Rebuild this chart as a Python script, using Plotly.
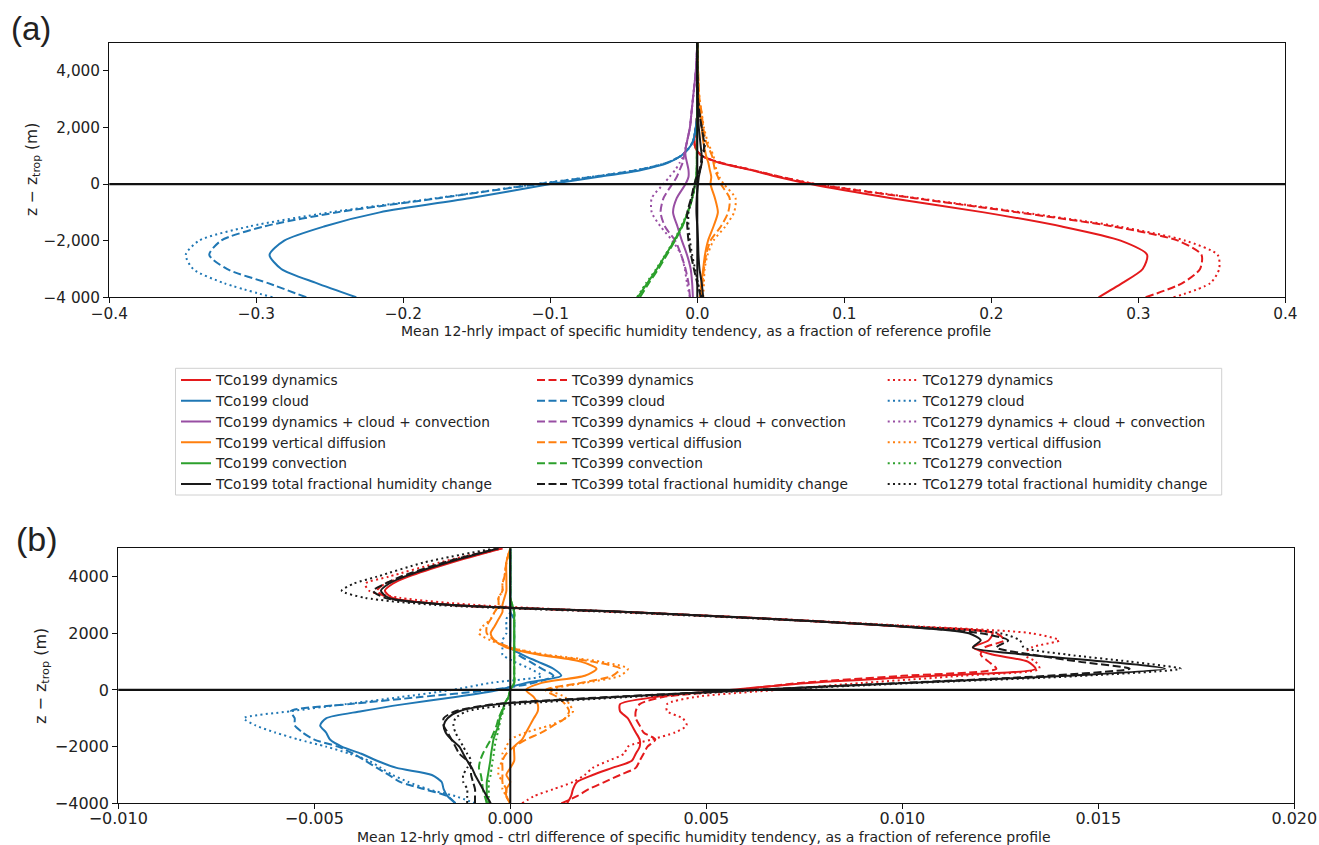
import plotly.graph_objects as go

W, H = 1319, 845

RESOLUTIONS = ["TCo199", "TCo399", "TCo1279"]
COMPONENTS = ["dynamics", "cloud", "dynamics + cloud + convection",
              "vertical diffusion", "convection", "total fractional humidity change"]
COLORS = ["#e41a1c", "#1f77b4", "#984ea3", "#ff7f0e", "#2ca02c", "#1a1a1a"]
DASHES = ["solid", "8px,3.5px", "2px,3.3px"]

# ---------------- panel (a): heights (m) ----------------
ZA = [-4000, -3500, -3000, -2500, -2000, -1500, -1000, -500, 0, 250, 500, 750,
      1000, 1250, 1500, 2000, 2500, 3000, 4000, 5000]

A_DYN_199 = [0.273, 0.289, 0.303, 0.306, 0.288, 0.248, 0.195, 0.132, 0.077, 0.055, 0.036, 0.015, 0.003, -0.001, -0.002, -0.001, 0.0, 0.0, 0.0, 0.0]
A_DYN_399 = [0.305, 0.330, 0.342, 0.343, 0.327, 0.283, 0.218, 0.148, 0.080, 0.057, 0.037, 0.016, 0.003, -0.001, -0.002, -0.001, 0.0, 0.0, 0.0, 0.0]
A_DYN_1279 = [0.324, 0.349, 0.355, 0.354, 0.332, 0.287, 0.221, 0.150, 0.081, 0.057, 0.037, 0.016, 0.003, -0.001, -0.002, -0.001, 0.0, 0.0, 0.0, 0.0]

A_CLD_199 = [-0.232, -0.259, -0.283, -0.291, -0.281, -0.254, -0.216, -0.155, -0.100, -0.068, -0.038, -0.020, -0.011, -0.006, -0.003, -0.001, 0.0, 0.0, 0.0, 0.0]
A_CLD_399 = [-0.266, -0.292, -0.320, -0.332, -0.324, -0.295, -0.245, -0.176, -0.108, -0.072, -0.040, -0.021, -0.011, -0.006, -0.003, -0.001, 0.0, 0.0, 0.0, 0.0]
A_CLD_1279 = [-0.289, -0.322, -0.343, -0.348, -0.339, -0.305, -0.250, -0.178, -0.110, -0.073, -0.041, -0.021, -0.011, -0.006, -0.003, -0.001, 0.0, 0.0, 0.0, 0.0]

A_DCC_199 = [-0.003, -0.0035, -0.0045, -0.007, -0.0105, -0.0135, -0.0165, -0.014, -0.008, -0.006, -0.006, -0.007, -0.008, -0.008, -0.007, -0.005, -0.004, -0.003, -0.001, 0.0]
A_DCC_399 = [-0.005, -0.006, -0.008, -0.011, -0.015, -0.022, -0.025, -0.023, -0.017, -0.014, -0.012, -0.010, -0.009, -0.008, -0.007, -0.005, -0.004, -0.003, -0.001, 0.0]
A_DCC_1279 = [-0.005, -0.007, -0.0085, -0.011, -0.017, -0.025, -0.031, -0.031, -0.023, -0.019, -0.015, -0.012, -0.0095, -0.008, -0.007, -0.005, -0.004, -0.003, -0.001, 0.0]

A_VDF_199 = [0.0017, 0.0028, 0.004, 0.0052, 0.0073, 0.011, 0.014, 0.012, 0.009, 0.0095, 0.0085, 0.0075, 0.006, 0.005, 0.004, 0.003, 0.002, 0.001, 0.0005, 0.0]
A_VDF_399 = [0.003, 0.0035, 0.0045, 0.006, 0.009, 0.016, 0.021, 0.022, 0.016, 0.014, 0.012, 0.011, 0.010, 0.008, 0.006, 0.004, 0.003, 0.0015, 0.0005, 0.0]
A_VDF_1279 = [0.004, 0.0045, 0.005, 0.007, 0.011, 0.019, 0.025, 0.026, 0.018, 0.015, 0.013, 0.012, 0.011, 0.009, 0.007, 0.0045, 0.003, 0.0015, 0.0005, 0.0]

A_CNV_199 = [-0.0405, -0.034, -0.0275, -0.0215, -0.0157, -0.0105, -0.0065, -0.0035, -0.0015, -0.0008, -0.0004, -0.0003, -0.0003, -0.0003, -0.0002, -0.0002, -0.0001, 0.0, 0.0, 0.0]
A_CNV_399 = [-0.039, -0.033, -0.0265, -0.0207, -0.0152, -0.0102, -0.0063, -0.0034, -0.0015, -0.0008, -0.0004, -0.0003, -0.0003, -0.0003, -0.0002, -0.0002, -0.0001, 0.0, 0.0, 0.0]
A_CNV_1279 = [-0.041, -0.0348, -0.028, -0.0218, -0.016, -0.011, -0.0067, -0.0036, -0.0015, -0.0008, -0.0004, -0.0003, -0.0003, -0.0003, -0.0002, -0.0002, -0.0001, 0.0, 0.0, 0.0]

A_TOT_199 = [0.004, 0.003, 0.0015, 0.0008, 0.0005, 0.0, -0.0006, -0.0004, 0.0005, 0.001, 0.002, 0.003, 0.003, 0.0025, 0.002, 0.001, 0.0005, 0.0003, 0.0, 0.0]
A_TOT_399 = [0.0025, 0.0, -0.0023, -0.0043, -0.006, -0.0068, -0.0068, -0.0042, -0.002, -0.0005, 0.0015, 0.0025, 0.003, 0.0045, 0.0045, 0.003, 0.0015, 0.0005, 0.0, 0.0]
A_TOT_1279 = [0.003, 0.0005, -0.0015, -0.0035, -0.005, -0.006, -0.006, -0.0035, -0.0015, 0.0, 0.002, 0.003, 0.004, 0.005, 0.005, 0.003, 0.0015, 0.0005, 0.0, 0.0]

# ---------------- panel (b): heights (m) ----------------
ZB = [-4000, -3750, -3500, -3250, -3000, -2750, -2500, -2250, -2000, -1750, -1500, -1250,
      -1000, -750, -500, -250, 0, 250, 500, 750, 1000, 1250, 1500, 1750, 2000, 2250,
      2500, 2750, 3000, 3250, 3500, 3750, 4000, 4500, 5000]

B_DYN_199 = [0.00145, 0.00155, 0.0016, 0.0017, 0.0021, 0.0026, 0.0031, 0.0032, 0.0033, 0.0033, 0.0032, 0.0031, 0.0030, 0.0028, 0.0028, 0.0037, 0.0056,
             0.0076, 0.0108, 0.0134, 0.0132, 0.0123, 0.0118, 0.0122, 0.0123, 0.0099, 0.0068, 0.0030, -0.0015, -0.0030, -0.0032, -0.0030, -0.0026, -0.0015, -0.0002]
B_DYN_399 = [0.0013, 0.0017, 0.0020, 0.0024, 0.0028, 0.0032, 0.0033, 0.0034, 0.0035, 0.0037, 0.0034, 0.0033, 0.0032, 0.0032, 0.0033, 0.0039, 0.0058,
             0.0074, 0.0100, 0.0124, 0.0122, 0.0120, 0.0121, 0.0126, 0.0124, 0.0099, 0.0068, 0.0030, -0.0015, -0.0031, -0.0034, -0.0032, -0.0027, -0.0016, -0.0002]
B_DYN_1279 = [0.0003, 0.0006, 0.0011, 0.0016, 0.0019, 0.0021, 0.0025, 0.0029, 0.0030, 0.0036, 0.0042, 0.0045, 0.0044, 0.0040, 0.0040, 0.0047, 0.0068,
              0.0090, 0.0115, 0.0135, 0.0134, 0.0131, 0.0133, 0.0140, 0.0133, 0.0103, 0.0069, 0.0029, -0.0009, -0.0028, -0.0036, -0.0037, -0.0031, -0.0018, -0.0003]

B_CLD_199 = [-0.0014, -0.0016, -0.0017, -0.00175, -0.0020, -0.0029, -0.0034, -0.0038, -0.0043, -0.0046, -0.0047, -0.00485, -0.0047, -0.0038, -0.0027, -0.0014, -0.0003,
             0.0004, 0.0013, 0.0011, 0.0007, 0.0003, 0.0, 0.0, 0.0, 0.0, 0.0, 0.0, 0.0, 0.0, 0.0, 0.0, 0.0, 0.0, 0.0]
B_CLD_399 = [-0.0014, -0.0016, -0.0022, -0.0028, -0.0031, -0.0034, -0.0037, -0.0040, -0.0044, -0.0050, -0.0053, -0.0055, -0.0055, -0.0056, -0.0041, -0.0023, -0.0005,
             0.0006, 0.0011, 0.0008, 0.0005, 0.0002, 0.0001, 0.0001, 0.0001, 0.0001, 0.0001, 0.0, 0.0, 0.0, 0.0, 0.0, 0.0, 0.0, 0.0]
B_CLD_1279 = [-0.0009, -0.0014, -0.0021, -0.0026, -0.0030, -0.0033, -0.0036, -0.0041, -0.0047, -0.0054, -0.0060, -0.0065, -0.0068, -0.0056, -0.0042, -0.0028, -0.0015,
              -0.0005, 0.0008, 0.0005, 0.0001, -0.0002, -0.0002, -0.0002, -0.0001, -0.0001, -0.0001, 0.0, 0.0, 0.0, 0.0, 0.0, 0.0, 0.0, 0.0]

B_VDF_199 = [0.0, -0.0001, -0.0001, 0.0, -0.0001, 0.0, 0.0001, 0.0001, 0.0001, 0.0003, 0.0004, 0.0005, 0.0006, 0.0007, 0.0007, 0.0006, 0.0004,
             0.0008, 0.0019, 0.0022, 0.0018, 0.0007, -0.0001, -0.0004, -0.0005, -0.0004, -0.0003, -0.0002, -0.0002, -0.00015, -0.0001, -0.0001, -0.0001, -0.0001, 0.0]
B_VDF_399 = [0.0, -0.0001, -0.0001, -0.0002, -0.0002, -0.0002, -0.0002, -0.0001, 0.0001, 0.0004, 0.0008, 0.0011, 0.0014, 0.0015, 0.0014, 0.0012, 0.0009,
             0.0018, 0.0026, 0.0028, 0.0021, 0.0008, 0.0, -0.0004, -0.0006, -0.0006, -0.0005, -0.0004, -0.0003, -0.0003, -0.0002, -0.0002, -0.00015, -0.0001, 0.0]
B_VDF_1279 = [0.0, -0.0001, -0.0002, -0.0002, -0.0003, -0.0003, -0.0002, -0.0002, -0.0001, 0.0, 0.0004, 0.0010, 0.0014, 0.0016, 0.0015, 0.0014, 0.0010,
              0.0019, 0.0028, 0.0030, 0.0023, 0.0009, 0.0, -0.0005, -0.0008, -0.0007, -0.0005, -0.0004, -0.0003, -0.0003, -0.0002, -0.0002, -0.00015, -0.0001, 0.0]

B_CNV_199 = [-0.0006, -0.0006, -0.0006, -0.0006, -0.00057, -0.00054, -0.00051, -0.00049, -0.00046, -0.00043, -0.00037, -0.0003, -0.00027, -0.0002, -0.00015, -0.00005, 0.0,
             0.0001, 0.0001, 0.0001, 0.0001, 0.0001, 0.0001, 0.0001, 0.0001, 0.0001, 0.0001, 0.0001, 0.00005, 0.0, 0.0, 0.0, 0.0, 0.0, 0.0]
B_CNV_399 = [-0.0006, -0.00065, -0.0007, -0.00072, -0.00075, -0.0008, -0.00077, -0.0007, -0.0006, -0.0005, -0.00042, -0.00035, -0.0003, -0.00022, -0.00015, -0.00005, 0.0,
             0.0001, 0.0001, 0.0001, 0.0001, 0.0001, 0.0001, 0.0001, 0.0001, 0.0001, 0.0001, 0.0001, 0.00005, 0.0, 0.0, 0.0, 0.0, 0.0, 0.0]
B_CNV_1279 = [-0.00055, -0.00055, -0.00055, -0.00055, -0.0005, -0.00048, -0.00045, -0.00042, -0.0004, -0.00036, -0.00032, -0.00028, -0.00024, -0.00018, -0.00012, -0.00004, 0.0,
              0.0001, 0.0001, 0.0001, 0.0001, 0.0001, 0.0001, 0.0001, 0.0001, 0.0001, 0.0001, 0.0001, 0.00005, 0.0, 0.0, 0.0, 0.0, 0.0, 0.0]

B_TOT_199 = [-0.0005, -0.0006, -0.0007, -0.0008, -0.0009, -0.00098, -0.0011, -0.0012, -0.0013, -0.0015, -0.00165, -0.0017, -0.0016, -0.0013, -0.0003, 0.0027, 0.0062,
             0.0101, 0.0142, 0.0167, 0.0152, 0.0131, 0.0118, 0.0120, 0.0117, 0.0099, 0.0068, 0.0030, -0.0015, -0.0031, -0.0033, -0.0031, -0.0027, -0.0016, -0.0003]
B_TOT_399 = [-0.0009, -0.0009, -0.0009, -0.00095, -0.0010, -0.0010, -0.0011, -0.0013, -0.0014, -0.0015, -0.0016, -0.0017, -0.0017, -0.0014, -0.0004, 0.0025, 0.0062,
             0.0100, 0.0137, 0.0158, 0.0145, 0.0133, 0.0124, 0.0127, 0.0120, 0.0099, 0.0068, 0.0030, -0.0015, -0.0032, -0.0035, -0.0032, -0.0028, -0.0017, -0.0003]
B_TOT_1279 = [-0.0011, -0.0011, -0.0011, -0.0012, -0.0012, -0.0011, -0.0010, -0.0011, -0.0012, -0.0013, -0.0014, -0.00145, -0.0014, -0.0011, 0.0002, 0.0030, 0.0065,
              0.0104, 0.0146, 0.0171, 0.0158, 0.0142, 0.0131, 0.0130, 0.0125, 0.0101, 0.0066, 0.0026, -0.0019, -0.0037, -0.0043, -0.0040, -0.0034, -0.0022, -0.0004]

A_SERIES = [[A_DYN_199, A_DYN_399, A_DYN_1279],
            [A_CLD_199, A_CLD_399, A_CLD_1279],
            [A_DCC_199, A_DCC_399, A_DCC_1279],
            [A_VDF_199, A_VDF_399, A_VDF_1279],
            [A_CNV_199, A_CNV_399, A_CNV_1279],
            [A_TOT_199, A_TOT_399, A_TOT_1279]]
B_SERIES = [[B_DYN_199, B_DYN_399, B_DYN_1279],
            [B_CLD_199, B_CLD_399, B_CLD_1279],
            None,
            [B_VDF_199, B_VDF_399, B_VDF_1279],
            [B_CNV_199, B_CNV_399, B_CNV_1279],
            [B_TOT_199, B_TOT_399, B_TOT_1279]]

LEGEND_IDS = ["legend", "legend2", "legend3"]

fig = go.Figure()
for ci, comp in enumerate(COMPONENTS):
    for ri, res in enumerate(RESOLUTIONS):
        name = f"{res} {comp}"
        line = dict(color=COLORS[ci], width=2, dash=DASHES[ri], shape="spline", smoothing=0.7)
        fig.add_trace(go.Scatter(x=A_SERIES[ci][ri], y=ZA, mode="lines", name=name, line=line,
                                 xaxis="x", yaxis="y", legend=LEGEND_IDS[ri],
                                 legendgroup=name, showlegend=True))
for ci, comp in enumerate(COMPONENTS):
    if B_SERIES[ci] is None:
        continue
    for ri, res in enumerate(RESOLUTIONS):
        name = f"{res} {comp}"
        line = dict(color=COLORS[ci], width=2, dash=DASHES[ri], shape="spline", smoothing=0.7)
        fig.add_trace(go.Scatter(x=B_SERIES[ci][ri], y=ZB, mode="lines", name=name, line=line,
                                 xaxis="x2", yaxis="y2", legend=LEGEND_IDS[ri],
                                 legendgroup=name, showlegend=False))

FONT = "DejaVu Sans"
TXT = "#222222"

def px_x(p):
    return p / W

def px_y(p):
    return 1 - p / H

axis_common = dict(showgrid=False, zeroline=False, showline=True, mirror=True, automargin=False,
                   linecolor="#111111", linewidth=1.3, ticks="outside", ticklen=5,
                   tickwidth=1.2, tickcolor="#111111")

A_XTICKS = [-0.4, -0.3, -0.2, -0.1, 0.0, 0.1, 0.2, 0.3, 0.4]
A_XTEXT = ["\u22120.4", "\u22120.3", "\u22120.2", "\u22120.1", "0.0", "0.1", "0.2", "0.3", "0.4"]
A_YTICKS = [-4000, -2000, 0, 2000, 4000]
A_YTEXT = ["\u22124 000", "\u22122,000", "0", "2,000", "4,000"]
B_XTICKS = [-0.010, -0.005, 0.0, 0.005, 0.010, 0.015, 0.020]
B_XTEXT = ["\u22120.010", "\u22120.005", "0.000", "0.005", "0.010", "0.015", "0.020"]
B_YTICKS = [-4000, -2000, 0, 2000, 4000]
B_YTEXT = ["\u22124000", "\u22122000", "0", "2000", "4000"]

fig.update_layout(
    width=W, height=H, margin=dict(l=0, r=0, t=0, b=0, autoexpand=False),
    paper_bgcolor="white", plot_bgcolor="white",
    font=dict(family=FONT, color=TXT),
    xaxis=dict(domain=[px_x(109.3), px_x(1285.3)], range=[-0.4, 0.4], anchor="y",
               tickvals=A_XTICKS, ticktext=A_XTEXT, tickfont=dict(size=15.3),
               ticklabelstandoff=-3, **axis_common),
    yaxis=dict(domain=[px_y(297.3), px_y(42.5)], range=[-4000, 5000], anchor="x",
               tickvals=A_YTICKS, ticktext=A_YTEXT, tickfont=dict(size=15.3), **axis_common),
    xaxis2=dict(domain=[px_x(118.3), px_x(1294.3)], range=[-0.010, 0.020], anchor="y2",
                tickvals=B_XTICKS, ticktext=B_XTEXT, tickfont=dict(size=16),
                ticklabelstandoff=-5, **axis_common),
    yaxis2=dict(domain=[px_y(803.3), px_y(548.3)], range=[-4000, 5000], anchor="x2",
                tickvals=B_YTICKS, ticktext=B_YTEXT, tickfont=dict(size=16), **axis_common),
    showlegend=True,
)

leg_common = dict(orientation="v", xanchor="left", yanchor="top", bgcolor="rgba(0,0,0,0)",
                  borderwidth=0, traceorder="grouped", tracegroupgap=0,
                  font=dict(family=FONT, size=13.7, color=TXT), itemwidth=30)
fig.update_layout(
    legend=dict(x=px_x(176), y=px_y(364.5), **leg_common),
    legend2=dict(x=px_x(532), y=px_y(364.5), **leg_common),
    legend3=dict(x=px_x(882.7), y=px_y(364.5), **leg_common),
)

shapes = [
    dict(type="rect", xref="paper", yref="paper", x0=px_x(175.5), x1=px_x(1221.7),
         y0=px_y(495), y1=px_y(368.3), line=dict(color="#d0d0d0", width=1),
         fillcolor="white", layer="below"),
]
for xa, ya in (("x", "y"), ("x2", "y2")):
    shapes.append(dict(type="line", xref=f"{xa} domain", yref=ya, x0=0, x1=1, y0=0, y1=0,
                       line=dict(color="#111111", width=2.2), layer="above"))
    shapes.append(dict(type="line", xref=xa, yref=f"{ya} domain", x0=0, x1=0, y0=0, y1=1,
                       line=dict(color="#111111", width=2), layer="above"))
fig.update_layout(shapes=shapes)

annotations = [
    dict(text="(a)", x=px_x(9), y=px_y(29), xref="paper", yref="paper", xanchor="left",
         yanchor="middle", showarrow=False, font=dict(family="Liberation Sans", size=33, color=TXT)),
    dict(text="(b)", x=px_x(14), y=px_y(539), xref="paper", yref="paper", xanchor="left",
         yanchor="middle", showarrow=False, font=dict(family="Liberation Sans", size=34, color=TXT)),
    dict(text="Mean 12-hrly impact of specific humidity tendency, as a fraction of reference profile",
         x=px_x(696), y=px_y(331), xref="paper", yref="paper", xanchor="center", yanchor="middle",
         showarrow=False, font=dict(family=FONT, size=14, color=TXT)),
    dict(text="Mean 12-hrly qmod - ctrl difference of specific humidity tendency, as a fraction of reference profile",
         x=px_x(703.5), y=px_y(837), xref="paper", yref="paper", xanchor="center", yanchor="middle",
         showarrow=False, font=dict(family=FONT, size=14, color=TXT)),
    dict(text="z \u2212 z<sub>trop</sub> (m)", textangle=-90, x=px_x(33), y=px_y(170),
         xref="paper", yref="paper", xanchor="center", yanchor="middle", showarrow=False,
         font=dict(family=FONT, size=15.5, color=TXT)),
    dict(text="z \u2212 z<sub>trop</sub> (m)", textangle=-90, x=px_x(41), y=px_y(676),
         xref="paper", yref="paper", xanchor="center", yanchor="middle", showarrow=False,
         font=dict(family=FONT, size=16, color=TXT)),
]
fig.update_layout(annotations=annotations)

fig.write_html("out.html")
